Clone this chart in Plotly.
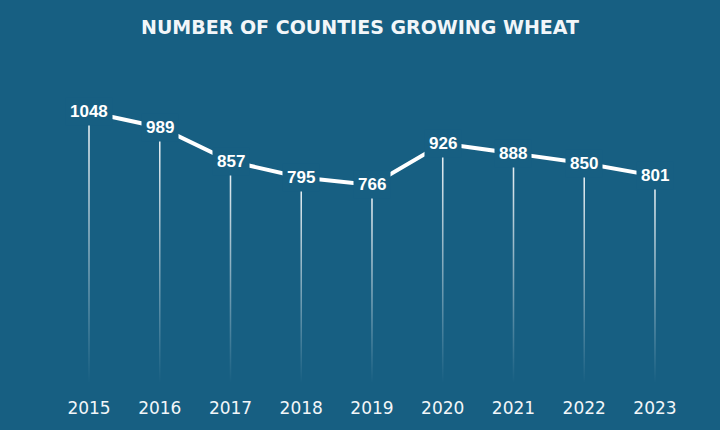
import plotly.graph_objects as go

years = [2015, 2016, 2017, 2018, 2019, 2020, 2021, 2022, 2023]
counties = [1048, 989, 857, 795, 766, 926, 888, 850, 801]
year_labels = [str(y) for y in years]

BG = "#175f82"
TEXT = "#f2f6f9"

fig = go.Figure()

# тонкие вертикальные линии с затуханием вниз
half_w = 0.011
for yr, val in zip(years, counties):
    fig.add_trace(
        go.Scatter(
            x=[yr - half_w, yr + half_w, yr + half_w, yr - half_w, yr - half_w],
            y=[0, 0, val, val, 0],
            mode="lines",
            line=dict(width=0),
            fill="toself",
            fillgradient=dict(
                type="vertical",
                colorscale=[[0, "rgba(255,255,255,0)"], [1, "rgba(255,255,255,0.95)"]],
            ),
            hoverinfo="skip",
            showlegend=False,
        )
    )

fig.add_trace(
    go.Scatter(
        x=years,
        y=counties,
        mode="lines",
        line=dict(color="white", width=4),
        hoverinfo="skip",
        showlegend=False,
    )
)

for yr, val in zip(years, counties):
    fig.add_annotation(
        x=yr,
        y=val,
        text=f"<b>{val}</b>",
        showarrow=False,
        font=dict(family="Liberation Sans", size=17, color="white"),
        bgcolor=BG,
        borderpad=4,
    )

fig.update_layout(
    width=720,
    height=430,
    paper_bgcolor=BG,
    plot_bgcolor=BG,
    margin=dict(l=0, r=0, t=60, b=47),
    title=dict(
        text="<b>NUMBER OF COUNTIES GROWING WHEAT</b>",
        x=0.5,
        xanchor="center",
        y=0.937,
        yanchor="middle",
        font=dict(family="DejaVu Sans", size=19, color=TEXT),
    ),
    xaxis=dict(
        range=[2013.742, 2023.919],
        tickvals=years,
        ticktext=year_labels,
        showgrid=False,
        zeroline=False,
        showline=False,
        ticks="outside",
        ticklen=10,
        tickcolor="rgba(0,0,0,0)",
        tickfont=dict(family="DejaVu Sans", size=17, color=TEXT),
    ),
    yaxis=dict(
        range=[0, 1249],
        showgrid=False,
        zeroline=False,
        showline=False,
        showticklabels=False,
    ),
)

fig.write_html(
    "out.html",
    config={"displayModeBar": False},
    post_script="document.body.style.margin='0';",
)
